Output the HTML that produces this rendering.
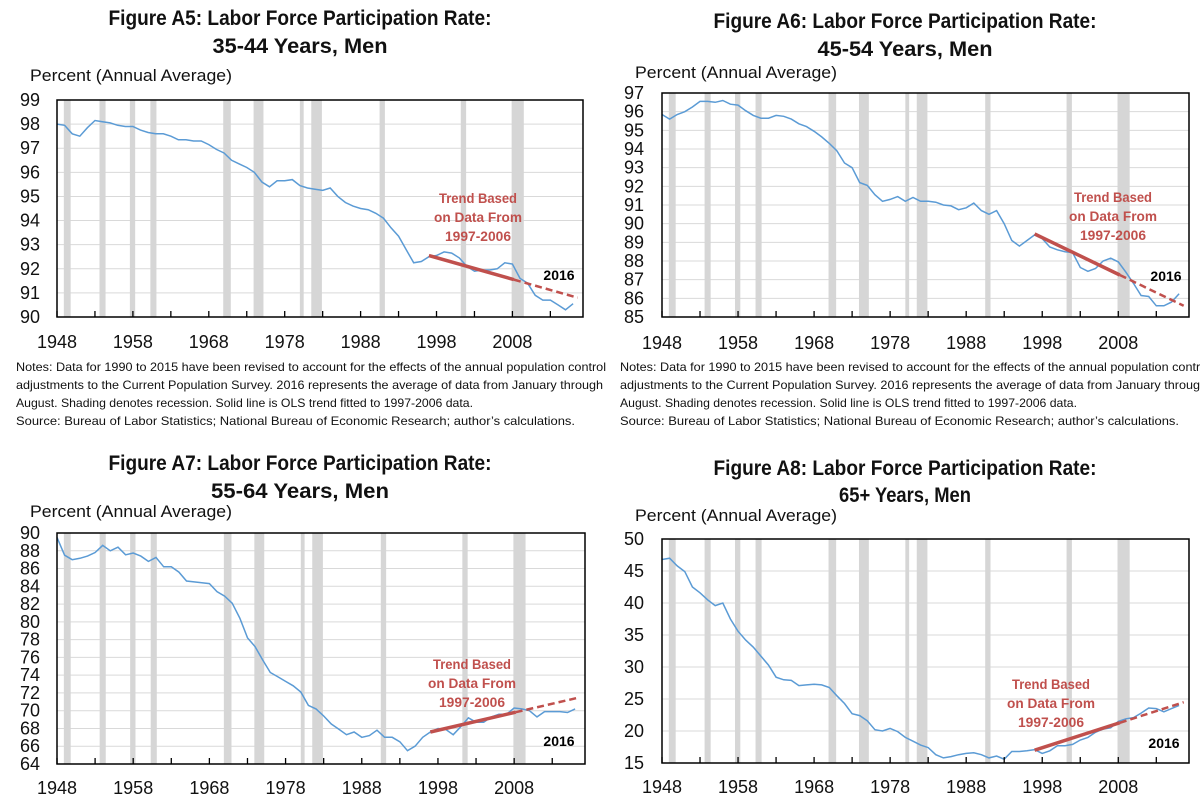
<!DOCTYPE html>
<html><head><meta charset="utf-8"><style>
html,body{margin:0;padding:0;background:#fff;}
svg{display:block;font-family:"Liberation Sans",sans-serif;}
</style></head><body>
<svg id="fig" width="1200" height="804" viewBox="0 0 1200 804"></svg>
<script>
const startYear = 1948;
const recessions = [[1948.9,1949.8],[1953.6,1954.4],[1957.6,1958.3],[1960.3,1961.1],[1969.9,1970.9],[1973.9,1975.2],[1980.0,1980.5],[1981.5,1982.9],[1990.5,1991.2],[2001.2,2001.9],[2007.9,2009.5]];
const xTickLabels = ["1948","1958","1968","1978","1988","1998","2008"];

const a5Values = [98.0,97.95,97.6,97.5,97.85,98.15,98.1,98.05,97.95,97.9,97.9,97.75,97.65,97.6,97.6,97.5,97.35,97.35,97.3,97.3,97.15,96.95,96.8,96.5,96.35,96.2,96.0,95.6,95.4,95.65,95.65,95.7,95.45,95.35,95.3,95.25,95.35,95.0,94.75,94.6,94.5,94.45,94.3,94.1,93.7,93.35,92.8,92.25,92.3,92.5,92.55,92.7,92.65,92.45,92.1,91.9,91.95,91.95,92.0,92.25,92.2,91.6,91.4,90.9,90.7,90.7,90.5,90.3,90.55];
const a5Ticks = [90,91,92,93,94,95,96,97,98,99];
const a5Trend = [92.55,90.8];

const a6Values = [95.85,95.6,95.85,96.0,96.25,96.55,96.55,96.5,96.6,96.4,96.35,96.05,95.8,95.65,95.65,95.8,95.75,95.6,95.35,95.2,94.95,94.65,94.3,93.9,93.25,93.0,92.2,92.05,91.55,91.2,91.3,91.45,91.2,91.4,91.2,91.2,91.15,91.0,90.95,90.75,90.85,91.1,90.7,90.5,90.7,90.0,89.1,88.8,89.1,89.4,89.2,88.75,88.6,88.5,88.45,87.65,87.45,87.6,88.0,88.15,87.95,87.4,86.8,86.15,86.1,85.6,85.6,85.8,86.25];
const a6Ticks = [85,86,87,88,89,90,91,92,93,94,95,96,97];
const a6Trend = [89.45,85.6];

const a7Values = [89.5,87.5,87.0,87.15,87.4,87.8,88.6,88.0,88.4,87.55,87.75,87.4,86.8,87.25,86.2,86.2,85.6,84.6,84.5,84.4,84.3,83.4,82.9,82.1,80.4,78.2,77.2,75.7,74.3,73.8,73.3,72.8,72.1,70.6,70.2,69.4,68.5,67.9,67.3,67.6,67.0,67.2,67.8,67.0,67.0,66.5,65.5,66.0,67.0,67.6,68.0,67.9,67.3,68.2,69.2,68.7,68.7,69.3,69.6,69.6,70.3,70.2,70.0,69.3,69.9,69.9,69.9,69.8,70.2];
const a7Ticks = [64,66,68,70,72,74,76,78,80,82,84,86,88,90];
const a7Trend = [67.6,71.5];

const a8Values = [46.8,47.0,45.8,44.9,42.5,41.6,40.5,39.6,40.0,37.5,35.6,34.2,33.1,31.7,30.3,28.4,28.0,27.9,27.1,27.2,27.3,27.2,26.8,25.5,24.3,22.7,22.4,21.6,20.2,20.0,20.4,19.9,19.0,18.4,17.8,17.4,16.3,15.8,16.0,16.3,16.5,16.6,16.3,15.8,16.1,15.6,16.8,16.8,16.9,17.1,16.5,16.9,17.7,17.7,17.9,18.6,19.0,19.8,20.3,20.5,21.5,21.9,22.1,22.8,23.6,23.5,23.0,23.5,24.0];
const a8Ticks = [15,20,25,30,35,40,45,50];
const a8Trend = [17.0,24.5];

const trendYears = [1997, 2008.2, 2016.6];

const NS = "http://www.w3.org/2000/svg";
const svg = document.getElementById("fig");
function mk(tag, attrs, parent){
  const e = document.createElementNS(NS, tag);
  for (const k in attrs) e.setAttribute(k, attrs[k]);
  (parent||svg).appendChild(e);
  return e;
}
function txt(str, attrs, parent){ const t = mk("text", attrs, parent); t.textContent = str; return t; }

const panels = [
  {id:"a5", values:a5Values, ticks:a5Ticks, trend:a5Trend, L:57, R:583, T:100, B:317,
   title:["Figure A5: Labor Force Participation Rate:","35-44 Years, Men"], tw:[383,175], tcx:300, ty:[25,53],
   py:81, px:30, notes:{x:16,y:371}, ann:{x:478,y:198}, lab2016:{x:559,y:280}, xl:348, yr:40},
  {id:"a6", values:a6Values, ticks:a6Ticks, trend:a6Trend, L:662, R:1189, T:93, B:317,
   title:["Figure A6: Labor Force Participation Rate:","45-54 Years, Men"], tw:[383,175], tcx:905, ty:[28,56],
   py:78, px:635, notes:{x:620,y:371}, ann:{x:1113,y:197}, lab2016:{x:1166,y:281}, xl:349, yr:644},
  {id:"a7", values:a7Values, ticks:a7Ticks, trend:a7Trend, L:57, R:585, T:533, B:764,
   title:["Figure A7: Labor Force Participation Rate:","55-64 Years, Men"], tw:[383,178], tcx:300, ty:[470,498],
   py:517, px:30, notes:null, ann:{x:472,y:664}, lab2016:{x:559,y:746}, xl:794, yr:40},
  {id:"a8", values:a8Values, ticks:a8Ticks, trend:a8Trend, L:662, R:1189, T:539, B:763,
   title:["Figure A8: Labor Force Participation Rate:","65+ Years, Men"], tw:[383,132], tcx:905, ty:[475,502],
   py:521, px:635, notes:null, ann:{x:1051,y:684}, lab2016:{x:1164,y:748}, xl:793, yr:644}
];
const noteLines = [
 ["Notes: Data for 1990 to 2015 have been revised to account for the effects of the annual population control",590],
 ["adjustments to the Current Population Survey. 2016 represents the average of data from January through",587],
 ["August. Shading denotes recession. Solid line is OLS trend fitted to 1997-2006 data.",457],
 ["Source: Bureau of Labor Statistics; National Bureau of Economic Research; author\u2019s calculations.",559]
];

panels.forEach(p => {
  const g = mk("g", {});
  
  
  const ymin = p.ticks[0], ymax = p.ticks[p.ticks.length-1];
  const xs = yr => p.L + (yr - startYear) * (p.R - p.L) / 69.3;
  const ys = v => p.B - (v - ymin) * (p.B - p.T) / (ymax - ymin);

  p.title.forEach((line, i) => {
    const t = txt(line, {x:p.tcx, y:p.ty[i], "text-anchor":"middle", "font-weight":"bold", "font-size":21, fill:"#111",
      textLength: p.tw[i], lengthAdjust:"spacingAndGlyphs"}, g);
    
    
  });
  const yt = txt("Percent (Annual Average)", {x:p.px, y:p.py, "font-size":17, fill:"#111", textLength:202, lengthAdjust:"spacingAndGlyphs"}, g);
  
  

  p.ticks.forEach(v => {
    const l = mk("line", {x1:p.L, x2:p.R, y1:ys(v), y2:ys(v), stroke:"#d9d9d9", "stroke-width":1}, g);
    
    
    const t = txt(String(v), {x:p.yr, y:ys(v)+6, "text-anchor":"end", "font-size":18, fill:"#111"}, g);
    
    
  });
  recessions.forEach(r => {
    const b = mk("rect", {x:xs(r[0]), y:p.T, width:Math.max(2, xs(r[1])-xs(r[0])), height:p.B-p.T, fill:"#d6d6d6"}, g);
    
    
  });
  const pts = p.values.map((v,i) => xs(startYear+i).toFixed(1) + "," + ys(v).toFixed(1)).join(" ");
  const line = mk("polyline", {points:pts, fill:"none", stroke:"#5b9bd5", "stroke-width":1.5}, g);
  
  
  const tv = y => p.trend[0] + (p.trend[1]-p.trend[0]) * (y - trendYears[0]) / (trendYears[2]-trendYears[0]);
  const ts = mk("line", {x1:xs(trendYears[0]), y1:ys(tv(trendYears[0])), x2:xs(trendYears[1]), y2:ys(tv(trendYears[1])), stroke:"#c0504d", "stroke-width":3.5}, g);
  
  
  const td = mk("line", {x1:xs(trendYears[1]), y1:ys(tv(trendYears[1])), x2:xs(trendYears[2]), y2:ys(tv(trendYears[2])), stroke:"#c0504d", "stroke-width":2.5, "stroke-dasharray":"7,4"}, g);
  
  
  const fr = mk("rect", {x:p.L, y:p.T, width:p.R-p.L, height:p.B-p.T, fill:"none", stroke:"#000", "stroke-width":1.5}, g);
  
  
  for (let yr = 1948; yr <= 2016; yr += 5) {
    const tk = mk("line", {x1:xs(yr), x2:xs(yr), y1:p.B, y2:p.B-6, stroke:"#000", "stroke-width":1.3}, g);
    
    
  }
  xTickLabels.forEach(lab => {
    const t = txt(lab, {x:xs(+lab), y:p.xl, "text-anchor":"middle", "font-size":18, fill:"#111"}, g);
    
    
  });
  ["Trend Based","on Data From","1997-2006"].forEach((s,i) => {
    const t = txt(s, {x:p.ann.x, y:p.ann.y + 5 + i*19, "text-anchor":"middle", "font-weight":"bold", "font-size":14, fill:"#c0504d",
      textLength: [78,88,66][i], lengthAdjust:"spacingAndGlyphs"}, g);
    
    
  });
  const l16 = txt("2016", {x:p.lab2016.x, y:p.lab2016.y, "text-anchor":"middle", "font-weight":"bold", "font-size":14, fill:"#000"}, g);
  
  
  if (p.notes) {
    noteLines.forEach((nl, i) => {
      const t = txt(nl[0], {x:p.notes.x, y:p.notes.y + i*18, "font-size":12, fill:"#111", textLength:nl[1], lengthAdjust:"spacingAndGlyphs"}, g);
      
      
    });
  }
});
</script>
</body></html>
